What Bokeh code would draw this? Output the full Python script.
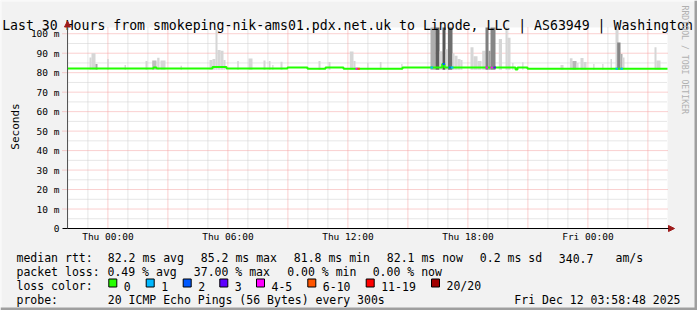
import numpy as np
import pandas as pd
from bokeh.plotting import figure
from bokeh.models import (Range1d, FixedTicker, DatetimeTickFormatter, DatetimeAxis, LinearAxis,
                          CustomJSTickFormatter, Arrow, NormalHead, ColumnDataSource)
from bokeh.core.properties import value
from bokeh.embed import file_html
from bokeh.resources import INLINE

# ---------------- data ----------------
END = pd.Timestamp("2025-12-12 03:58:48")
START = END - pd.Timedelta(hours=30)
THU = pd.Timestamp("2025-12-11 00:00:00")   # reference for hour offsets
Y_TOP = 103.2

title_text = "Last 30 Hours from smokeping-nik-ams01.pdx.net.uk to Linode, LLC | AS63949 | Washington"

y_ticks = [0, 10, 20, 30, 40, 50, 60, 70, 80, 90, 100]
x_label_hours = [0, 6, 12, 18, 24]           # Thu 00:00 ... Fri 00:00

# smoke (distribution of pings): start/end hour offsets from Thu 00:00, max rtt (ms), density
smoke_from_h = [-0.92, -0.82, -0.62, -0.035, 0.83, 1.88, 2.215, 2.465, 2.63, 3.63,
                5.08, 5.23, 5.38, 5.48, 5.63, 5.78, 6.465, 7.03, 7.78, 8.045,
                8.215, 8.63, 10.53, 11.03, 12.095, 12.28, 12.965, 13.595, 14.665,
                16.13, 16.38, 16.58, 16.73, 16.88, 17.005, 17.23, 17.33, 17.48, 17.63,
                18.13, 18.28, 18.48, 18.715, 18.88, 19.03, 19.13, 19.545, 19.88, 19.98,
                20.215, 20.715, 22.63, 23.095, 23.23, 23.465, 23.63, 23.78, 24.265,
                24.715, 25.13, 25.38, 25.465, 25.63, 25.73, 27.33, 27.43]
smoke_to_h = [-0.82, -0.62, -0.52, 0.045, 0.905, 1.98, 2.43, 2.58, 2.88, 3.705,
              5.23, 5.38, 5.48, 5.63, 5.78, 5.88, 6.545, 7.23, 7.88, 8.13,
              8.28, 8.73, 10.63, 11.13, 12.28, 12.38, 13.03, 13.68, 14.73,
              16.38, 16.58, 16.73, 16.88, 17.005, 17.23, 17.33, 17.48, 17.63, 17.73,
              18.28, 18.48, 18.68, 18.88, 19.03, 19.13, 19.38, 19.705, 19.98, 20.13,
              20.28, 20.78, 22.78, 23.23, 23.43, 23.53, 23.78, 23.93, 24.33,
              24.78, 25.205, 25.53, 25.63, 25.73, 25.83, 27.43, 27.63]
smoke_max_ms = [87.8, 90.0, 84.4, 87.0, 84.0, 86.0, 86.3, 87.7, 86.3, 83.5,
                86.5, 87.0, 102.4, 91.6, 91.3, 86.5, 86.0, 87.3, 86.2, 86.0,
                84.0, 85.6, 86.0, 85.5, 90.9, 86.0, 85.0, 85.5, 84.5,
                103.2, 103.2, 91.0, 103.2, 92.0, 103.2, 90.0, 88.7, 87.0, 86.5,
                93.0, 88.5, 86.0, 91.3, 103.2, 91.3, 103.2, 97.3, 103.2, 98.0,
                85.0, 85.3, 84.0, 87.4, 86.0, 85.0, 87.5, 85.5, 84.5,
                84.5, 87.0, 102.6, 95.5, 89.6, 87.8, 93.0, 86.3]
smoke_density = [0.05, 0.05, 0.35, 0.05, 0.05, 0.05, 0.2, 0.05, 0.05, 0.05,
                 0.05, 0.05, 0.05, 0.05, 0.05, 0.05, 0.05, 0.05, 0.05, 0.05,
                 0.05, 0.05, 0.05, 0.05, 0.05, 0.05, 0.05, 0.05, 0.05,
                 0.3, 0.8, 0.05, 0.85, 0.05, 0.7, 0.05, 0.05, 0.05, 0.05,
                 0.05, 0.05, 0.05, 0.05, 0.6, 0.4, 0.55, 0.05, 0.05, 0.05,
                 0.05, 0.05, 0.05, 0.05, 0.25, 0.05, 0.05, 0.05, 0.05,
                 0.05, 0.05, 0.05, 0.55, 0.3, 0.05, 0.05, 0.05]
smoke_min_ms = 81.5

# median rtt: step changes (hour offset from Thu 00:00, ms)
median_first_ms = 82.2
median_change_h = [2.28, 2.43, 5.23, 5.93, 8.98, 9.98, 10.88, 11.78, 14.73,
                   16.715, 16.83, 20.38, 20.48, 20.98]
median_change_ms = [82.6, 82.2, 82.9, 82.2, 82.7, 82.0, 82.6, 82.0, 82.6,
                    84.5, 82.6, 81.7, 82.6, 82.0]

# packet loss events: hour offset, loss class
loss_h = [12.38, 12.48, 16.13, 16.73, 17.03, 17.155, 18.88, 19.13, 19.28, 25.38, 25.63]
loss_class = ["4-5", "6-10", "1", "2", "2", "1", "4-5", "4-5", "3", "1", "1"]

loss_labels = ["0", "1", "2", "3", "4-5", "6-10", "11-19", "20/20"]
loss_colors = ["#26ff00", "#00b8ff", "#0059ff", "#5e00ff", "#ff00ff", "#ff5500", "#ff0000", "#a10000"]

rtt_avg, rtt_max, rtt_min, rtt_now, rtt_sd, am_s = 82.2, 85.2, 81.8, 82.1, 0.2, 340.7
loss_avg, loss_max, loss_min, loss_now = 0.49, 37.00, 0.00, 0.00
probe_text = "20 ICMP Echo Pings (56 Bytes) every 300s"
stamp_text = "Fri Dec 12 03:58:48 2025"

# ---------------- layout constants (pixels) ----------------
W, H = 697, 310
PLOT_L, PLOT_R, PLOT_T, PLOT_B = 67, 667, 27, 228
MS_PER_PX_X = (END - START).total_seconds() * 1000 / (PLOT_R - PLOT_L)
PX_PER_MS_Y = (PLOT_B - PLOT_T) / Y_TOP

def ms(ts):
    return ts.value / 1e6

def at(h):
    return ms(THU + pd.Timedelta(hours=float(h)))

def shade(d):
    lv = int(round(222 - 160 * d))
    return "#%02x%02x%02x" % (lv, lv, lv)

FONT = "DejaVu Sans Mono"
PINK = "#f5a0a0"
GRAY = "#cdcdcd"
BACK = "#f2f2f2"

x0 = ms(START) - PLOT_L * MS_PER_PX_X
x1 = ms(END) + (W - PLOT_R) * MS_PER_PX_X
y0 = -(H - PLOT_B) / PX_PER_MS_Y
y1 = PLOT_B / PX_PER_MS_Y

p = figure(width=W, height=H, x_range=Range1d(x0, x1), y_range=Range1d(y0, y1),
           x_axis_location=None, y_axis_location=None,
           output_backend="svg", toolbar_location=None,
           min_border=0, background_fill_color=BACK, border_fill_color=BACK,
           outline_line_color=None)
p.grid.visible = False
p.extra_x_ranges = {"px": Range1d(0, W)}
p.extra_y_ranges = {"py": Range1d(H, 0)}

def ptext(x, y, t, size="11.5px", align="left", angle=0, color="black"):
    p.text(x=[x], y=[y], text=[t], x_range_name="px", y_range_name="py",
           text_font=value(FONT), text_font_size=value(size), text_align=align,
           text_baseline="alphabetic", angle=angle, text_color=color)

def pquad(l, r, t, b, c, line=None):
    p.quad(left=[l], right=[r], top=[t], bottom=[b], x_range_name="px", y_range_name="py",
           fill_color=c, line_color=line, line_width=1)

# plot canvas (white)
p.quad(left=[ms(START)], right=[ms(END)], bottom=[0], top=[Y_TOP],
       fill_color="white", line_color=None)

# grid lines
hours_all = pd.date_range(START.ceil("h"), END, freq="h")
minor_x = [ms(t) for t in hours_all if t.hour % 3 != 0]
major_x = [ms(t) for t in hours_all if t.hour % 3 == 0]
minor_y = [v + 5 for v in y_ticks[:-1]]
major_y = y_ticks[1:]
p.segment(x0=minor_x, x1=minor_x, y0=0, y1=Y_TOP, line_color=GRAY, line_dash="1 1")
p.segment(x0=ms(START), x1=ms(END), y0=minor_y, y1=minor_y, line_color=GRAY, line_dash="1 1")
p.segment(x0=major_x, x1=major_x, y0=0, y1=Y_TOP, line_color=PINK, line_dash="1 1")
p.segment(x0=ms(START) - 5 * MS_PER_PX_X, x1=ms(END), y0=major_y, y1=major_y,
          line_color=PINK, line_dash="1 1")

# smoke
src = ColumnDataSource(dict(
    left=[at(h) for h in smoke_from_h], right=[at(h) for h in smoke_to_h],
    bottom=[smoke_min_ms] * len(smoke_max_ms), top=smoke_max_ms,
    color=[shade(d) for d in smoke_density]))
p.quad(left="left", right="right", bottom="bottom", top="top",
       fill_color="color", line_color=None, source=src)

# median line
mx = [ms(START)] + [at(h) for h in median_change_h] + [ms(END)]
my = [median_first_ms] + median_change_ms + [median_change_ms[-1]]
p.step(mx, my, mode="after", line_color="#22ff00", line_width=2)

# loss-colored pieces
sx0, sx1, sy, sc = [], [], [], []
for h, c in zip(loss_h, loss_class):
    xs = at(h)
    i = np.searchsorted(np.array(mx), xs, side="right") - 1
    sx0.append(xs)
    sx1.append(at(h + 0.12))
    sy.append(my[i])
    sc.append(loss_colors[loss_labels.index(c)])
p.segment(x0=sx0, x1=sx1, y0=sy, y1=sy, line_color=sc, line_width=2)

# axes (fixed at the data origin)
fmt = "%a %H:%M"
xa = DatetimeAxis(fixed_location=0, bounds=(ms(START), ms(END)),
                  ticker=FixedTicker(ticks=[at(h) for h in x_label_hours]),
                  formatter=DatetimeTickFormatter(hours=fmt, hourmin=fmt, days=fmt,
                                                  minutes=fmt, months=fmt))
ya = LinearAxis(fixed_location=ms(START), bounds=(0, Y_TOP),
                ticker=FixedTicker(ticks=y_ticks),
                formatter=CustomJSTickFormatter(code="return tick == 0 ? '0' : tick.toFixed(0) + ' m';"))
for ax in (xa, ya):
    ax.axis_line_color = None
    ax.major_tick_in = 0
    ax.minor_tick_in = 0
    ax.minor_tick_out = 0
    ax.major_label_text_font = FONT
    ax.major_label_text_font_size = "9.5px"
    ax.major_label_text_color = "black"
xa.major_tick_out = 0
xa.major_label_standoff = 2
ya.major_tick_out = 0
ya.major_label_standoff = 8
p.add_layout(xa, "below")
p.add_layout(ya, "left")

# axis arrows
AR = "#9e1b1b"
p.add_layout(Arrow(end=NormalHead(size=6, fill_color=AR, line_color=AR),
                   x_start=ms(START) - 5 * MS_PER_PX_X, y_start=0,
                   x_end=ms(END) + 7 * MS_PER_PX_X, y_end=0, line_color="black", line_width=1))
p.add_layout(Arrow(end=NormalHead(size=6, fill_color=AR, line_color=AR),
                   x_start=ms(START), y_start=0, x_end=ms(START), y_end=Y_TOP + 6.5 / PX_PER_MS_Y,
                   line_color="#555555", line_width=1))

# texts
ptext(347, 25, title_text, size="13.2px", align="center")
ptext(15, 126, "Seconds", size="11px", align="center", angle=np.pi / 2)
ptext(684, 5, "RRDTOOL / TOBI OETIKER", size="8.2px", align="left", angle=-np.pi / 2, color="#b0b0b0")

row1 = [(16, "median rtt:"), (107.3, f"{rtt_avg:.1f} ms avg"), (200.3, f"{rtt_max:.1f} ms max"),
        (293.3, f"{rtt_min:.1f} ms min"), (386.3, f"{rtt_now:.1f} ms now"),
        (479.3, f"{rtt_sd:.1f} ms sd"), (558.3, f"{am_s:.1f}"), (615, "am/s")]
row2 = [(16, "packet loss:"), (107, f"{loss_avg:.2f} % avg"), (193.3, f"{loss_max:.2f} % max"),
        (286.7, f"{loss_min:.2f} % min"), (372.2, f"{loss_now:.2f} % now")]
for x, t in row1:
    ptext(x, 257.5, t)
for x, t in row2:
    ptext(x, 271.5, t)
ptext(16, 285.5, "loss color:")
box_x = [108.3, 145.7, 182.7, 219.3, 256, 307.3, 365.7, 431]
for bx, l, c in zip(box_x, loss_labels, loss_colors):
    pquad(bx, bx + 8, 278.5, 286.5, c, line="black")
    ptext(bx + 15, 285.5, l)
ptext(16, 299.5, "probe:")
ptext(107.3, 299.5, probe_text)
ptext(680, 299.5, stamp_text, align="right")

# frame borders
pquad(0, W, 0, 1, "#fbfbfb")
pquad(0, 1, 0, H, "#fbfbfb")
pquad(W - 3, W, 0, H, "#9f9f9f")
pquad(0, W, H - 3, H, "#9f9f9f")

open("out.html", "w").write(file_html(p, INLINE))
